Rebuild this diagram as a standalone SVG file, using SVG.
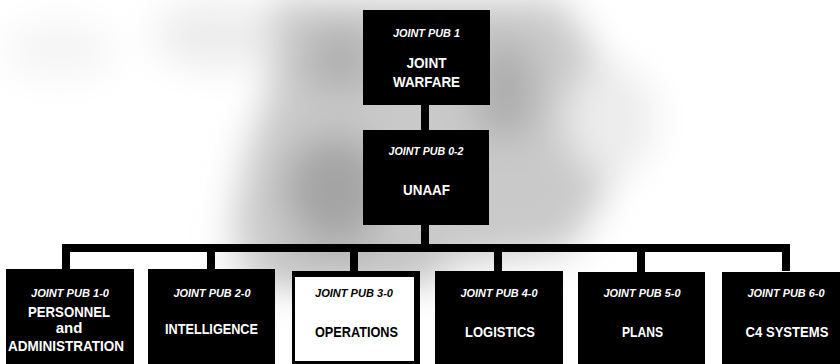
<svg xmlns="http://www.w3.org/2000/svg" width="840" height="364" viewBox="0 0 840 364">
  <defs>
    <filter id="soft" x="-50%" y="-50%" width="200%" height="200%">
      <feGaussianBlur stdDeviation="18"/>
    </filter>
    <style>
      .box { fill: #000; }
      .pub { font-family: "Liberation Sans", Arial, sans-serif; font-weight: bold; font-style: italic; font-size: 11.5px; fill: #fff; text-anchor: middle; }
      .title { font-family: "Liberation Sans", Arial, sans-serif; font-weight: bold; font-size: 15px; fill: #fff; text-anchor: middle; }
      .dark { fill: #000; }
      .conn { stroke: #000; stroke-width: 8; fill: none; stroke-linejoin: miter; }
    </style>
  </defs>
  <rect width="840" height="364" fill="#fff"/>

  <!-- scanned gray background blob -->
  <g filter="url(#soft)">
    <path d="M270,0 L560,0 L600,60 L640,130 L600,200 L570,250 L470,262 L300,262 L230,245 L245,160 L270,90 Z" fill="#c9c9c9"/>
    <ellipse cx="335" cy="190" rx="50" ry="55" fill="#a4a4a4"/>
    <ellipse cx="340" cy="60" rx="35" ry="35" fill="#b0b0b0"/>
    <ellipse cx="505" cy="90" rx="32" ry="50" fill="#adadad"/>
    <ellipse cx="215" cy="35" rx="60" ry="35" fill="#ededed"/>
    <ellipse cx="60" cy="50" rx="55" ry="30" fill="#f5f5f5"/>
    <ellipse cx="610" cy="120" rx="45" ry="55" fill="#ececec"/>
    <ellipse cx="340" cy="270" rx="110" ry="18" fill="#bdbdbd"/>
  </g>

  <!-- connectors -->
  <g id="connectors">
    <line class="conn" x1="425" y1="104" x2="425" y2="131"/>
    <line class="conn" x1="425" y1="224" x2="425" y2="245"/>
    <path class="conn" d="M66,271 V248 H786 V271"/>
    <line class="conn" x1="211" y1="248" x2="211" y2="271"/>
    <line class="conn" x1="354" y1="248" x2="354" y2="272"/>
    <line class="conn" x1="498" y1="248" x2="498" y2="272"/>
    <line class="conn" x1="641" y1="248" x2="641" y2="272"/>
  </g>

  <g id="jp1">
    <rect class="box" x="363" y="10" width="127" height="95"/>
    <text class="pub" x="426.5" y="37" textLength="67" lengthAdjust="spacingAndGlyphs">JOINT PUB 1</text>
    <text class="title" x="426.5" y="68" textLength="40" lengthAdjust="spacingAndGlyphs">JOINT</text>
    <text class="title" x="426.5" y="87" textLength="67" lengthAdjust="spacingAndGlyphs">WARFARE</text>
  </g>

  <g id="jp0-2">
    <rect class="box" x="363" y="130" width="126" height="95"/>
    <text class="pub" x="426" y="155" textLength="75" lengthAdjust="spacingAndGlyphs">JOINT PUB 0-2</text>
    <text class="title" x="426.5" y="195" textLength="47" lengthAdjust="spacingAndGlyphs">UNAAF</text>
  </g>

  <g id="jp1-0">
    <rect class="box" x="6" y="269" width="128" height="95"/>
    <text class="pub" x="70" y="297" textLength="78" lengthAdjust="spacingAndGlyphs">JOINT PUB 1-0</text>
    <text class="title" x="69" y="317" textLength="82" lengthAdjust="spacingAndGlyphs">PERSONNEL</text>
    <text class="title" x="69" y="333">and</text>
    <text class="title" x="66" y="351" textLength="116" lengthAdjust="spacingAndGlyphs">ADMINISTRATION</text>
  </g>

  <g id="jp2-0">
    <rect class="box" x="148" y="269" width="127" height="95"/>
    <text class="pub" x="212" y="297" textLength="77" lengthAdjust="spacingAndGlyphs">JOINT PUB 2-0</text>
    <text class="title" x="211.5" y="334" textLength="93" lengthAdjust="spacingAndGlyphs">INTELLIGENCE</text>
  </g>

  <g id="jp3-0">
    <rect class="box" x="292" y="271" width="128" height="93"/>
    <rect x="295" y="277" width="119" height="84" fill="#fff"/>
    <text class="pub dark" x="354" y="297" textLength="78" lengthAdjust="spacingAndGlyphs">JOINT PUB 3-0</text>
    <text class="title dark" x="356.5" y="337" textLength="83" lengthAdjust="spacingAndGlyphs">OPERATIONS</text>
  </g>

  <g id="jp4-0">
    <rect class="box" x="435" y="271" width="128" height="93"/>
    <text class="pub" x="499" y="297" textLength="77" lengthAdjust="spacingAndGlyphs">JOINT PUB 4-0</text>
    <text class="title" x="500" y="337" textLength="70" lengthAdjust="spacingAndGlyphs">LOGISTICS</text>
  </g>

  <g id="jp5-0">
    <rect class="box" x="578" y="272" width="127" height="92"/>
    <text class="pub" x="642" y="297" textLength="77" lengthAdjust="spacingAndGlyphs">JOINT PUB 5-0</text>
    <text class="title" x="642.5" y="337" textLength="41" lengthAdjust="spacingAndGlyphs">PLANS</text>
  </g>

  <g id="jp6-0">
    <rect class="box" x="722" y="272" width="118" height="92"/>
    <text class="pub" x="786" y="297" textLength="77" lengthAdjust="spacingAndGlyphs">JOINT PUB 6-0</text>
    <text class="title" x="787" y="337" textLength="83" lengthAdjust="spacingAndGlyphs">C4 SYSTEMS</text>
  </g>
</svg>
